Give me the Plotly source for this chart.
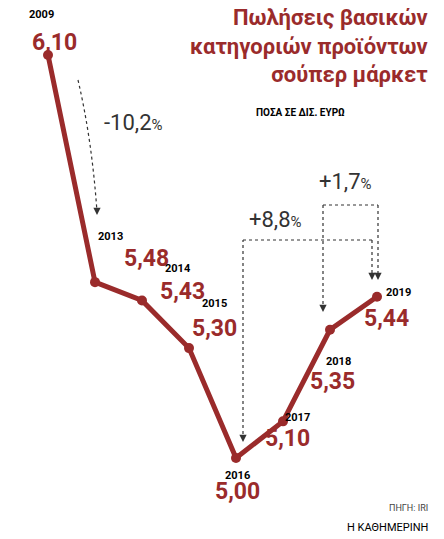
import plotly.graph_objects as go

years = ["2009", "2013", "2014", "2015", "2016", "2017", "2018", "2019"]
values = [6.10, 5.48, 5.43, 5.30, 5.00, 5.10, 5.35, 5.44]
value_labels = ["6,10", "5,48", "5,43", "5,30", "5,00", "5,10", "5,35", "5,44"]

RED = "#9a2b2b"
W, H = 444, 539
M = 8  # page body margin
FW, FH = W - 2 * M, H - 2 * M
FONT = "Roboto, Liberation Sans"
# label centres in page pixels (year, value)
year_pos = [(27, 6), (96, 236), (178, 268), (214, 303), (237, 484), (312, 426), (353, 370), (413, 292)]
value_pos = [(30, 27), (122, 259), (182, 291), (214, 328), (237, 507), (312, 454), (357, 397), (411, 318)]


def px(xp, yp):
    return (xp - M) / FW, 1 - (yp - M) / FH


x = list(range(len(years)))
fig = go.Figure()
fig.add_trace(go.Scatter(x=x, y=values, mode="lines+markers",
                         line=dict(color=RED, width=5),
                         marker=dict(color=RED, size=10), hoverinfo="skip"))

anns = []
for i, (yr, lab) in enumerate(zip(years, value_labels)):
    xx, yy = px(*year_pos[i])
    anns.append(dict(x=xx, y=yy, xref="paper", yref="paper", text="<b>" + yr + "</b>", showarrow=False,
                     font=dict(size=11, color="black", family=FONT)))
    xx, yy = px(*value_pos[i])
    anns.append(dict(x=xx, y=yy, xref="paper", yref="paper", text="<b>" + lab + "</b>", showarrow=False,
                     font=dict(size=23, color=RED, family=FONT)))

texts = [
    (430, 46, "<b>Πωλήσεις βασικών<br>κατηγοριών προϊόντων<br>σούπερ μάρκετ</b>", 22, RED, "right"),
    (300, 112, "<b>ΠΟΣΑ ΣΕ ΔΙΣ. ΕΥΡΩ</b>", 10, "black", "center"),
    (133, 122, "-10,2<span style='font-size:15px'>%</span>", 22, "#333", "center"),
    (275, 220, "+8,8<span style='font-size:15px'>%</span>", 22, "#333", "center"),
    (345, 182, "+1,7<span style='font-size:15px'>%</span>", 22, "#333", "center"),
    (430, 508, "ΠΗΓΗ: IRI", 9, "#444", "right"),
    (430, 527, "Η ΚΑΘΗΜΕΡΙΝΗ", 11, "black", "right"),
]
for xp, yp, t, s, c, al in texts:
    xx, yy = px(xp, yp)
    anns.append(dict(x=xx, y=yy, xref="paper", yref="paper", text=t, showarrow=False,
                     xanchor=al, yanchor="middle", align=al,
                     font=dict(size=s, color=c, family=FONT)))

shapes = []
dot = dict(color="#333", width=1.2, dash="dot")
for pts in [[(243, 440), (243, 240), (372, 240), (372, 278)],
            [(323, 310), (323, 205), (378, 205), (378, 278)]]:
    for a, b in zip(pts[:-1], pts[1:]):
        x0, y0 = px(*a)
        x1, y1 = px(*b)
        shapes.append(dict(type="line", xref="paper", yref="paper", x0=x0, y0=y0, x1=x1, y1=y1, line=dot))
shapes.append(dict(type="path", xref="paper", yref="paper",
                   path="M %f,%f Q %f,%f %f,%f" % (*px(78, 80), *px(92, 140), *px(97, 212)), line=dot))

for xa, ya in [(97, 215), (243, 442), (323, 312), (372, 280), (378, 280)]:
    x0, y0 = px(xa, ya)
    anns.append(dict(x=x0, y=y0, ax=0, ay=-6, xref="paper", yref="paper",
                     text="", showarrow=True, arrowhead=2, arrowsize=1.2,
                     arrowwidth=1.2, arrowcolor="#333"))

# axis ranges chosen so 2009 sits at page (48, 55) and 2016 at (237, 458)
fig.update_layout(
    width=FW, height=FH, margin=dict(l=0, r=0, t=0, b=0),
    paper_bgcolor="white", plot_bgcolor="white", showlegend=False,
    xaxis=dict(range=[-(48 - M) / 47, (W - M - 48) / 47], visible=False),
    yaxis=dict(range=[5.00 - (H - M - 458) / 366.4, 6.10 + (55 - M) / 366.4], visible=False),
    annotations=anns, shapes=shapes,
)
fig.write_html("out.html")
